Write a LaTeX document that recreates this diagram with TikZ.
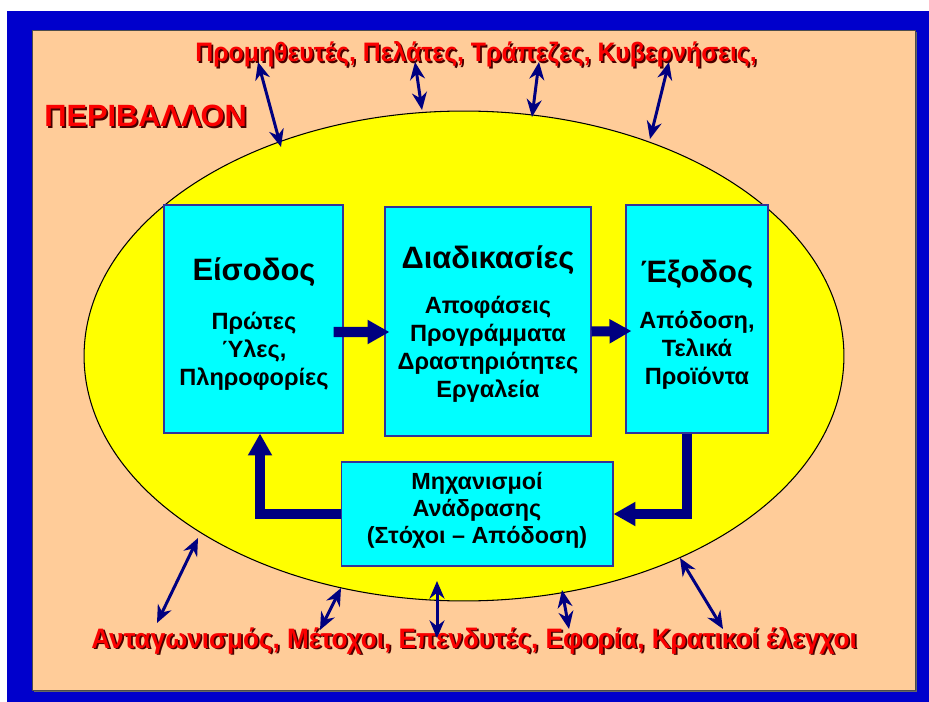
\documentclass[tikz,border=0pt]{standalone}
\usepackage{fontspec}
\setmainfont{Liberation Sans}
\newfontfamily\narrowfont[FakeStretch=0.93]{Liberation Sans}
\usepackage{xcolor}
\usetikzlibrary{shapes,calc}
\usetikzlibrary{arrows.meta}

\definecolor{frameblue}{RGB}{0,0,204}
\definecolor{envpeach}{RGB}{255,204,153}
\definecolor{sysyellow}{RGB}{255,255,0}
\definecolor{boxcyan}{RGB}{0,255,255}
\definecolor{boxborder}{RGB}{51,51,153}
\definecolor{arrownavy}{RGB}{0,0,128}
\definecolor{envred}{RGB}{250,0,0}
\definecolor{shadowdark}{RGB}{70,0,0}

% red text with a dark drop shadow
\newcommand{\redShadow}[1]{\rlap{\hspace{1pt}\raisebox{-1pt}{\textcolor{shadowdark}{#1}}}\textcolor{envred}{#1}}

\begin{document}
\begin{tikzpicture}[x=0.02cm, y=-0.02cm,
        procbox/.style={draw=boxborder, line width=0.6pt, fill=boxcyan, inner sep=0},
        boxtitle/.style={font=\bfseries\fontsize{17.6}{20}\selectfont, inner sep=0, anchor=base},
        boxtext/.style={font=\bfseries\fontsize{13.4}{15.9}\selectfont, align=center, inner sep=0, anchor=base},
        envtext/.style={font=\narrowfont\bfseries\fontsize{15.2}{18}\selectfont, inner sep=0, anchor=base},
        envarrow/.style={draw=arrownavy, line width=1.7pt,
            {Stealth[length=10pt,width=8.5pt]}-{Stealth[length=10pt,width=8.5pt]}},
        flow/.style={draw=arrownavy, line width=5.7pt, line join=miter,
            -{Triangle[length=12.5pt,width=13pt]}}]

        \useasboundingbox (0,0) rectangle (929,702);
        \fill[white] (0,0) rectangle (929,702);

        % frame and environment
        \fill[frameblue] (7,11) rectangle (929,702);
        \fill[black!60] (34,32) rectangle (917,692);
        \filldraw[fill=envpeach, draw=black!70, line width=0.4pt] (32,30) rectangle (915,690);

        % the organisation
        \node[ellipse, draw=black, line width=0.6pt, fill=sysyellow,
              minimum width=15.2cm, minimum height=9.8cm, inner sep=0] (sys) at (464,356) {};

        % Text
        \node[envtext] (suppliers) at (476,62) {\redShadow{Προμηθευτές, Πελάτες, Τράπεζες, Κυβερνήσεις,}};
        \node[envtext, font=\bfseries\fontsize{17.5}{20}\selectfont, anchor=base west] (env) at (44,127)
            {\redShadow{ΠΕΡΙΒΑΛΛΟΝ}};
        \node[envtext, font=\narrowfont\bfseries\fontsize{16}{18}\selectfont] (rivals) at (474,648)
            {\redShadow{Ανταγωνισμός, Μέτοχοι, Επενδυτές, Εφορία, Κρατικοί έλεγχοι}};

        % Boxes
        \node[procbox, minimum width=3.58cm, minimum height=4.56cm] (eisodos) at (253.5,319) {};
        \node[procbox, minimum width=4.12cm, minimum height=4.58cm] (diadik) at (488,321.5) {};
        \node[procbox, minimum width=2.84cm, minimum height=4.56cm] (exodos) at (697,319) {};
        \node[procbox, minimum width=5.44cm, minimum height=2.08cm] (feedback) at (477,514) {};

        % titles and contents (base = last line)
        \node[boxtitle] (eisodosT) at (254,281) {Είσοδος};
        \node[boxtext] (eisodosB) at (254,385) {Πρώτες\\Ύλες,\\Πληροφορίες};

        \node[boxtitle] (diadikT) at (488,269) {Διαδικασίες};
        \node[boxtext] (diadikB) at (488,397) {Αποφάσεις\\Προγράμματα\\Δραστηριότητες\\Εργαλεία};

        \node[boxtitle] (exodosT) at (697,283) {Έξοδος};
        \node[boxtext] (exodosB) at (697,384) {Απόδοση,\\Τελικά\\Προϊόντα};

        \node[boxtext, font=\bfseries\fontsize{13.3}{15.3}\selectfont] (feedbackB) at (477,543)
            {Μηχανισμοί\\Ανάδρασης\\(Στόχοι – Απόδοση)};

        % flow between the boxes
        \draw[flow] ($(eisodos.east)+(-10,13)$) -- ($(diadik.west)+(5,10.5)$);
        \draw[flow] ($(diadik.east)+(0,10)$) -- ($(exodos.west)+(6,12)$);
        \draw[flow] ($(exodos.south)+(-10,0)$) |- (feedback.east);
        \draw[flow] (feedback.west) -| ($(eisodos.south)+(6.5,0)$);

        % exchanges with the environment
        \foreach \n/\p/\q in {1/{258,62}/{281,147}, 2/{415,62}/{422,110},
                              3/{539,62}/{532,117}, 4/{669,62}/{650,139},
                              5/{157,623}/{198,538}, 6/{320,630}/{341,588},
                              7/{437,638}/{437,581}, 8/{569,629}/{562,590},
                              9/{723,629}/{680,558}} {
            \coordinate (out\n) at (\p);
            \coordinate (in\n) at (\q);
            \draw[envarrow] (out\n) -- (in\n);
        }

\end{tikzpicture}
\end{document}
